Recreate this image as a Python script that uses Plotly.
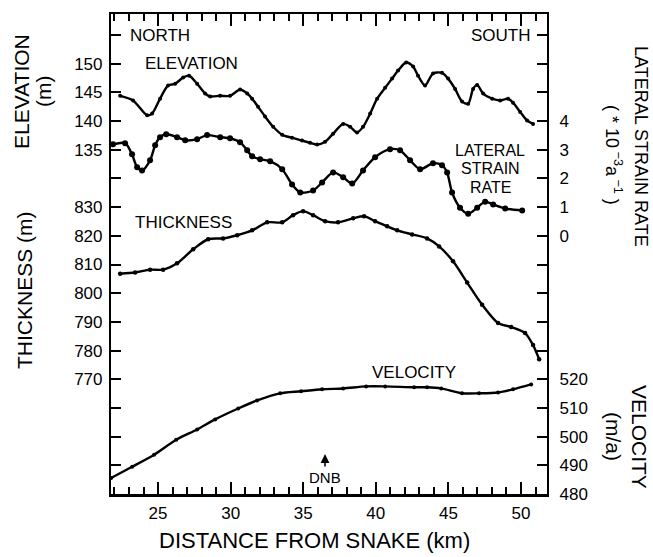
import plotly.graph_objects as go

# ---------------- data ----------------
dist_elev = [22.39, 23.28, 24.25, 24.59, 25.14, 25.69, 26.18, 26.73, 27.14, 27.69, 28.24, 28.59,
             29.28, 29.96, 30.65, 31.14, 31.48, 31.89, 32.37, 32.93, 33.55, 34.23, 34.92, 35.47,
             35.96, 36.51, 37.06, 37.75, 38.23, 38.71, 39.12, 39.61, 40.09, 40.64, 41.12, 41.53,
             42.09, 42.57, 42.91, 43.39, 43.94, 44.56, 44.98, 45.46, 45.94, 46.36, 46.70, 46.98,
             47.39, 48.01, 48.56, 49.11, 49.45, 49.94, 50.42, 50.83]
elevation = [144.4, 143.6, 141.0, 141.3, 143.9, 146.2, 146.5, 147.6, 147.9, 146.5, 144.8, 144.3,
             144.4, 144.4, 145.5, 144.8, 143.9, 142.5, 140.8, 139.0, 137.6, 137.1, 136.6, 136.2,
             135.9, 136.4, 137.8, 139.5, 139.0, 138.0, 139.0, 141.3, 143.9, 145.8, 147.4, 148.8,
             150.2, 149.5, 147.9, 146.2, 148.3, 148.4, 147.4, 145.6, 143.4, 143.0, 145.6, 146.3,
             144.8, 143.9, 143.6, 143.9, 143.2, 141.6, 140.1, 139.5]

dist_strain = [21.90, 22.73, 23.21, 23.56, 23.90, 24.45, 24.80, 25.14, 25.56, 26.31, 26.87, 27.69,
               28.38, 29.28, 29.96, 30.65, 31.14, 31.48, 32.03, 32.72, 33.55, 34.23, 34.79, 35.68,
               36.30, 37.06, 37.75, 38.37, 39.12, 39.95, 40.98, 41.67, 42.36, 43.05, 43.94, 44.56,
               44.91, 45.25, 45.80, 46.36, 46.98, 47.53, 48.08, 48.91, 50.08]
strain_rate = [3.19, 3.23, 2.84, 2.39, 2.28, 2.63, 3.16, 3.44, 3.54, 3.44, 3.33, 3.37,
               3.51, 3.44, 3.40, 3.26, 2.98, 2.77, 2.67, 2.60, 2.32, 1.79, 1.51, 1.58,
               1.86, 2.21, 2.04, 1.82, 2.28, 2.74, 3.02, 2.98, 2.63, 2.32, 2.53, 2.46,
               2.21, 1.51, 0.98, 0.77, 0.98, 1.19, 1.09, 0.95, 0.88]

dist_thick = [22.39, 23.42, 24.45, 25.35, 26.31, 27.42, 28.45, 29.48, 30.45, 31.48, 32.51, 33.55,
              34.30, 34.99, 35.68, 36.51, 37.40, 38.44, 39.19, 39.95, 40.78, 41.47, 42.50, 43.53,
              44.36, 45.32, 46.29, 47.32, 48.42, 49.32, 50.28, 50.83, 51.25]
thickness = [806.8, 807.2, 808.2, 808.2, 810.4, 815.3, 818.8, 819.1, 820.2, 821.9, 824.7, 824.7,
             827.2, 828.6, 827.2, 825.1, 824.7, 826.1, 826.8, 825.1, 823.3, 821.9, 820.5, 819.1,
             816.3, 811.1, 803.7, 796.0, 789.6, 788.2, 786.1, 781.9, 777.0]

dist_vel = [21.77, 23.22, 24.73, 26.25, 27.69, 28.93, 30.52, 31.82, 33.41, 34.85, 36.30, 37.75,
            39.33, 40.64, 42.64, 43.53, 44.50, 45.94, 47.11, 48.42, 49.45, 50.70]
velocity = [485.6, 489.5, 493.7, 498.9, 502.5, 506.0, 509.8, 512.6, 515.1, 515.8, 516.5, 516.8,
            517.5, 517.5, 517.2, 517.2, 516.8, 515.1, 515.1, 515.4, 516.5, 518.2]

dnb_km = 36.5

elev_ticks = [155, 150, 145, 140, 135, 130]
elev_ticklabels = ["", "150", "145", "140", "135", ""]
thick_ticks = [830, 820, 810, 800, 790, 780, 770, 760, 750, 740, 730]
thick_ticklabels = ["830", "820", "810", "800", "790", "780", "770", "", "", "", ""]
strain_ticks = [7, 6, 5, 4, 3, 2, 1, 0, -1, -2, -3, -4]
strain_ticklabels = ["", "", "", "4", "3", "2", "1", "0", "", "", "", ""]
vel_ticks = [520, 510, 500, 490, 480]
vel_ticklabels = ["520", "510", "500", "490", "480"]
x_ticks = [25, 30, 35, 40, 45, 50]
x_minor_ticks = [22, 23, 24, 26, 27, 28, 29, 31, 32, 33, 34, 36, 37, 38, 39,
                 41, 42, 43, 44, 46, 47, 48, 49, 51]

# ---------------- layout geometry ----------------
W, H = 653, 557
L, R, T, B = 111, 547, 14, 494        # plot frame in pixels
PW, PH = R - L, B - T
FIRST_TICK = 35
STEP = (B - FIRST_TICK) / 16.0
K_TOP = (T - FIRST_TICK) / STEP
X_RANGE = [21.76, 51.79]


def axis_range(val, k, per_tick):
    return [val - (16 - k) * per_tick, val - (K_TOP - k) * per_tick]


def px(xp):
    return (xp - L) / PW


def py(yp):
    return (B - yp) / PH


FONT = "Liberation Sans, Arial, Helvetica, sans-serif"
INK = "#000000"

fig = go.Figure()
common = dict(mode="lines+markers", line=dict(color=INK, width=2.4, shape="spline", smoothing=0.8),
              showlegend=False, hoverinfo="skip")
fig.add_trace(go.Scatter(x=dist_elev, y=elevation, yaxis="y", marker=dict(size=4, color=INK), **common))
fig.add_trace(go.Scatter(x=dist_strain, y=strain_rate, yaxis="y3", marker=dict(size=6, color=INK), **common))
fig.add_trace(go.Scatter(x=dist_thick, y=thickness, yaxis="y2", marker=dict(size=4.5, color=INK), **common))
fig.add_trace(go.Scatter(x=dist_vel, y=velocity, yaxis="y4", marker=dict(size=4, color=INK), **common))
# helper (invisible) traces so that every tick-only x axis is drawn
for xa in ["x2", "x3", "x4", "x5"]:
    fig.add_trace(go.Scatter(x=[X_RANGE[0]], y=[150], xaxis=xa, yaxis="y", mode="markers",
                             marker=dict(size=1, color="rgba(0,0,0,0)"), showlegend=False, hoverinfo="skip"))

tickfont = dict(family=FONT, size=17, color=INK)
yax_common = dict(showgrid=False, zeroline=False, ticks="inside", ticklen=10, tickwidth=2.2,
                  tickcolor=INK, tickfont=tickfont, showline=True, linecolor=INK, linewidth=2.2,
                  tickmode="array", fixedrange=True)
xbase = dict(range=X_RANGE, showgrid=False, zeroline=False, tickmode="array", tickcolor=INK,
             showticklabels=False, fixedrange=True)
major = dict(tickvals=x_ticks, ticklen=12, tickwidth=2.2)
minor = dict(tickvals=x_minor_ticks, ticklen=7, tickwidth=2)

fig.update_layout(
    width=W, height=H,
    margin=dict(l=L, r=W - R, t=T, b=H - B, pad=0),
    paper_bgcolor="white", plot_bgcolor="white",
    font=dict(family=FONT, color=INK),
    # bottom axis: line + labels only
    xaxis=dict(side="bottom", range=X_RANGE, showgrid=False, zeroline=False, tickmode="array",
               tickvals=x_ticks, ticks="", tickfont=tickfont, ticklabelstandoff=2,
               showline=True, linecolor=INK, linewidth=2.8, fixedrange=True),
    # top axis ticks (pointing down into the frame)
    xaxis2=dict(overlaying="x", side="top", anchor="y", ticks="inside", showline=True,
                linecolor=INK, linewidth=2.2, **major, **xbase),
    xaxis4=dict(overlaying="x", side="top", anchor="y", ticks="inside", showline=False, **minor, **xbase),
    # bottom ticks (pointing up into the frame) from top-side axes pinned to the bottom edge
    xaxis3=dict(overlaying="x", side="top", anchor="free", position=0, ticks="outside", showline=False,
                **major, **xbase),
    xaxis5=dict(overlaying="x", side="top", anchor="free", position=0, ticks="outside", showline=False,
                **minor, **xbase),
    yaxis=dict(range=axis_range(150, 1, 5), side="left", tickvals=elev_ticks,
               ticktext=elev_ticklabels, ticklabelstandoff=3, **yax_common),
    yaxis2=dict(range=axis_range(830, 6, 10), side="left", overlaying="y", tickvals=thick_ticks,
                ticktext=thick_ticklabels, ticklabelstandoff=3, **yax_common),
    yaxis3=dict(range=axis_range(4, 3, 1), side="right", overlaying="y", anchor="x", tickvals=strain_ticks,
                ticktext=strain_ticklabels, ticklabelstandoff=7, **yax_common),
    yaxis4=dict(range=axis_range(520, 12, 10), side="right", overlaying="y", anchor="x", tickvals=vel_ticks,
                ticktext=vel_ticklabels, ticklabelstandoff=7, **yax_common),
)

lab = dict(family=FONT, size=17, color=INK)
C = dict(xanchor="center", yanchor="middle", showarrow=False)
ann = []
# in-plot labels
ann.append(dict(x=22.94, y=155, xref="x", yref="y", text="NORTH", showarrow=False, xanchor="left", yanchor="middle", font=lab))
ann.append(dict(x=50.83, y=155, xref="x", yref="y", text="SOUTH", showarrow=False, xanchor="right", yanchor="middle", font=lab))
ann.append(dict(x=23.97, y=150.1, xref="x", yref="y", text="ELEVATION", showarrow=False, xanchor="left", yanchor="middle", font=lab))
lab16 = dict(family=FONT, size=16, color=INK)
ann.append(dict(x=47.87, y=2.99, xref="x", yref="y3", text="LATERAL", font=lab16, **C))
ann.append(dict(x=47.87, y=2.33, xref="x", yref="y3", text="STRAIN", font=lab16, **C))
ann.append(dict(x=47.87, y=1.68, xref="x", yref="y3", text="RATE", font=lab16, **C))
ann.append(dict(x=23.28, y=824.8, xref="x", yref="y2", text="THICKNESS", showarrow=False, xanchor="left", yanchor="middle", font=lab))
ann.append(dict(x=42.64, y=522.2, xref="x", yref="y4", text="VELOCITY", font=lab, **C))
# DNB marker
ann.append(dict(x=dnb_km, y=493.9, xref="x", yref="y4", text="", showarrow=True, ax=0, ay=14,
                arrowhead=2, arrowsize=1.1, arrowwidth=1.6, arrowcolor=INK))
ann.append(dict(x=dnb_km, y=485.7, xref="x", yref="y4", text="DNB", font=dict(family=FONT, size=15, color=INK), **C))
# axis titles
tf = dict(family=FONT, size=21, color=INK)
tf_small = dict(family=FONT, size=18, color=INK)
ann.append(dict(x=px(22), y=py(92), xref="paper", yref="paper", text="ELEVATION", textangle=-90, font=tf, **C))
ann.append(dict(x=px(44), y=py(92), xref="paper", yref="paper", text="(m)", textangle=-90, font=tf, **C))
ann.append(dict(x=px(24), y=py(290), xref="paper", yref="paper", text="THICKNESS (m)", textangle=-90, font=tf, **C))
ann.append(dict(x=px(641), y=py(146), xref="paper", yref="paper", text="LATERAL STRAIN RATE", textangle=90, font=tf_small, **C))
ann.append(dict(x=px(613), y=py(155), xref="paper", yref="paper",
                text="( * 10<sup> \u22123</sup>a<sup> \u22121</sup> )", textangle=90, font=tf_small, **C))
ann.append(dict(x=px(640), y=py(437), xref="paper", yref="paper", text="VELOCITY", textangle=90, font=tf, **C))
ann.append(dict(x=px(614), y=py(436), xref="paper", yref="paper", text="(m/a)", textangle=90, font=tf, **C))
ann.append(dict(x=px(314), y=py(540), xref="paper", yref="paper", text="DISTANCE FROM SNAKE (km)",
                font=dict(family=FONT, size=22, color=INK), **C))
fig.update_layout(annotations=ann)

fig.write_html("out.html")
